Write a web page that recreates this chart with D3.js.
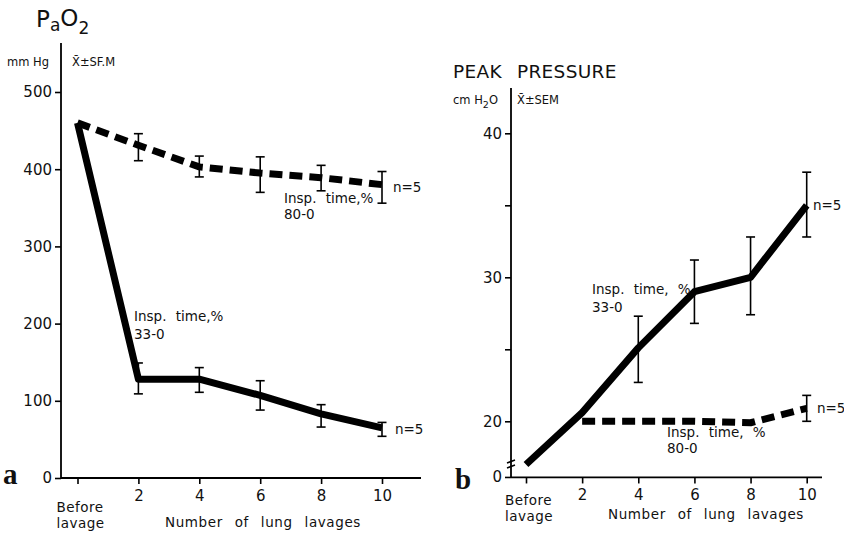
<!DOCTYPE html>
<html><head><meta charset="utf-8">
<script src="https://cdn.jsdelivr.net/npm/d3@7"></script>
<style>
body{margin:0;background:#fff}
svg{display:block}
text{fill:#111}
</style>
</head><body>
<svg id="chart" width="844" height="535" font-family="DejaVu Sans, sans-serif"></svg>
<script>
// Lavage number along the x axis (0 = before lavage)
const lavages = [0, 2, 4, 6, 8, 10];
const lavageTickLabels = ["", "2", "4", "6", "8", "10"];

// Panel a: PaO2 (mm Hg), mean and mean ± SEM
const pao2Ticks = [0, 100, 200, 300, 400, 500];
const pao2Short = [460, 128, 128, 107, 83, 65];          // insp. time 33-0 %
const pao2ShortLo = [null, 109, 111, 88, 66, 54];
const pao2ShortHi = [null, 149, 143, 126, 95, 72];
const pao2Long = [460, 431, 403, 395, 389, 380];         // insp. time 80-0 %
const pao2LongLo = [null, 411, 390, 370, 372, 356];
const pao2LongHi = [null, 446, 417, 416, 405, 397];

// Panel b: peak pressure (cm H2O), mean and mean ± SEM
const peakTicks = [20, 25, 30, 35, 40];
const peakShort = [17.0, 20.6, 25.1, 29.0, 30.0, 35.0];  // insp. time 33-0 %
const peakShortLo = [null, null, 22.7, 26.8, 27.4, 32.8];
const peakShortHi = [null, null, 27.3, 31.2, 32.8, 37.3];
const peakLong = [null, 20.0, 20.0, 20.0, 19.9, 20.9];   // insp. time 80-0 %
const peakLongLo = [null, null, null, null, null, 20.0];
const peakLongHi = [null, null, null, null, null, 21.8];
const peakAxisFloor = 16.1; // value drawn at the broken-axis "0"

const svg = d3.select("#chart");

function rows(xs, ys, lo, hi) {
  return xs.map((x, i) => ({x, y: ys[i], lo: lo[i], hi: hi[i]})).filter(d => d.y != null);
}

function drawSeries(g, x, y, data, dashed) {
  const line = d3.line().x(d => x(d.x)).y(d => y(d.y));
  g.append("path").datum(data)
    .attr("d", line)
    .attr("fill", "none")
    .attr("stroke", "#000")
    .attr("stroke-width", 7)
    .attr("stroke-linejoin", "round")
    .attr("stroke-dasharray", dashed ? "13,7" : null);
  const eb = data.filter(d => d.lo != null);
  const bars = g.selectAll(null).data(eb).enter().append("g").attr("stroke", "#000").attr("stroke-width", 1.6);
  bars.append("line").attr("x1", d => x(d.x)).attr("x2", d => x(d.x)).attr("y1", d => y(d.lo)).attr("y2", d => y(d.hi));
  bars.append("line").attr("x1", d => x(d.x) - 4.5).attr("x2", d => x(d.x) + 4.5).attr("y1", d => y(d.lo)).attr("y2", d => y(d.lo));
  bars.append("line").attr("x1", d => x(d.x) - 4.5).attr("x2", d => x(d.x) + 4.5).attr("y1", d => y(d.hi)).attr("y2", d => y(d.hi));
}

function styleAxis(g, size) {
  g.select(".domain").remove();
  g.selectAll(".tick line").attr("stroke", "#000").attr("stroke-width", 1.6);
  g.selectAll(".tick text").attr("font-family", "DejaVu Sans, sans-serif").attr("font-size", size).attr("fill", "#111");
}

function xLabels(g, x, yBase, numX, beforeDy, numDy) {
  g.append("text").attr("x", x(0) - 21).attr("y", yBase + beforeDy).attr("font-size", 13.5).attr("letter-spacing", 0.5).text("Before");
  g.append("text").attr("x", x(0) - 21).attr("y", yBase + beforeDy + 16).attr("font-size", 13.5).attr("letter-spacing", 0.5).text("lavage");
  g.append("text").attr("x", numX).attr("y", yBase + numDy).attr("font-size", 13.5)
    .attr("letter-spacing", 0.6).attr("word-spacing", 7).text("Number of lung lavages");
}

// ---------- Panel a ----------
const xA = d3.scaleLinear().domain([0, 10]).range([77.5, 382]);
const yA = d3.scaleLinear().domain([0, 500]).range([478, 92]);
const gA = svg.append("g");

gA.append("line").attr("x1", 61).attr("x2", 61).attr("y1", 43).attr("y2", yA(0)).attr("stroke", "#000").attr("stroke-width", 1.8);
gA.append("line").attr("x1", 61).attr("x2", 421).attr("y1", yA(0)).attr("y2", yA(0)).attr("stroke", "#000").attr("stroke-width", 1.8);

gA.append("g").attr("transform", "translate(61,0)")
  .call(d3.axisLeft(yA).tickValues(pao2Ticks).tickSize(6).tickPadding(3))
  .call(g => styleAxis(g, 15));
gA.append("g").attr("transform", `translate(0,${yA(0)})`)
  .call(d3.axisBottom(xA).tickValues(lavages).tickFormat((d, i) => lavageTickLabels[i]).tickSize(6).tickPadding(6))
  .call(g => styleAxis(g, 15));

drawSeries(gA, xA, yA, rows(lavages, pao2Long, pao2LongLo, pao2LongHi), true);
drawSeries(gA, xA, yA, rows(lavages, pao2Short, pao2ShortLo, pao2ShortHi), false);

// title PaO2
const tA = gA.append("text").attr("x", 36).attr("y", 27).attr("font-size", 23);
tA.append("tspan").text("P");
tA.append("tspan").attr("font-size", 17).attr("dy", 4).text("a");
tA.append("tspan").attr("dy", -5).text("O");
tA.append("tspan").attr("font-size", 17).attr("dy", 8).text("2");

gA.append("text").attr("x", 7).attr("y", 66).attr("font-size", 11.5).text("mm Hg");
gA.append("text").attr("x", 72).attr("y", 66).attr("font-size", 11.5).text("X\u0304\u00B1SF.M");

gA.append("text").attr("x", 284).attr("y", 203).attr("font-size", 13.5).attr("word-spacing", 5).text("Insp. time,%");
gA.append("text").attr("x", 284).attr("y", 219).attr("font-size", 13.5).text("80-0");
gA.append("text").attr("x", 393).attr("y", 192).attr("font-size", 13.5).text("n=5");

gA.append("text").attr("x", 134).attr("y", 321).attr("font-size", 13.5).attr("word-spacing", 5).text("Insp. time,%");
gA.append("text").attr("x", 134).attr("y", 339).attr("font-size", 13.5).text("33-0");
gA.append("text").attr("x", 395).attr("y", 434).attr("font-size", 13.5).text("n=5");

xLabels(gA, xA, yA(0), 165, 34, 49);
gA.append("text").attr("x", 3).attr("y", 484).attr("font-family", "Liberation Serif, serif").attr("font-weight", "bold").attr("font-size", 29).text("a");

// ---------- Panel b ----------
const xB = d3.scaleLinear().domain([0, 10]).range([526, 806.7]);
const yB = d3.scaleLinear().domain([20, 40]).range([421.3, 133.3]);
const gB = svg.append("g");
const yFloor = yB(peakAxisFloor);

gB.append("line").attr("x1", 511).attr("x2", 511).attr("y1", 88).attr("y2", yFloor).attr("stroke", "#000").attr("stroke-width", 1.8);
gB.append("line").attr("x1", 511).attr("x2", 822).attr("y1", yFloor).attr("y2", yFloor).attr("stroke", "#000").attr("stroke-width", 1.8);
// axis break marks
[461.5, 466.5].forEach(yy => {
  gB.append("line").attr("x1", 507).attr("x2", 515).attr("y1", yy + 1.5).attr("y2", yy - 1.5).attr("stroke", "#000").attr("stroke-width", 1.6);
});

gB.append("g").attr("transform", "translate(511,0)")
  .call(d3.axisLeft(yB).tickValues(peakTicks).tickFormat(d => d % 10 === 0 ? d : "").tickSize(6).tickPadding(3))
  .call(g => styleAxis(g, 15));
gB.append("line").attr("x1", 505).attr("x2", 511).attr("y1", yFloor).attr("y2", yFloor).attr("stroke", "#000").attr("stroke-width", 1.6);
gB.append("text").attr("x", 502).attr("y", yFloor + 5).attr("text-anchor", "end").attr("font-size", 15).text("0");

gB.append("g").attr("transform", `translate(0,${yFloor})`)
  .call(d3.axisBottom(xB).tickValues(lavages).tickFormat((d, i) => lavageTickLabels[i]).tickSize(6).tickPadding(6))
  .call(g => styleAxis(g, 15));

drawSeries(gB, xB, yB, rows(lavages, peakLong, peakLongLo, peakLongHi), true);
drawSeries(gB, xB, yB, rows(lavages, peakShort, peakShortLo, peakShortHi), false);

gB.append("text").attr("x", 453).attr("y", 78).attr("font-size", 18.5).attr("word-spacing", 9).attr("letter-spacing", 0.3).text("PEAK PRESSURE");
const unitB = gB.append("text").attr("x", 453).attr("y", 104).attr("font-size", 11.5);
unitB.append("tspan").text("cm H");
unitB.append("tspan").attr("font-size", 9.5).attr("dy", 4).text("2");
unitB.append("tspan").attr("dy", -4).text("O");
gB.append("text").attr("x", 517).attr("y", 104).attr("font-size", 11.5).text("X\u0304\u00B1SEM");

gB.append("text").attr("x", 592).attr("y", 294).attr("font-size", 13.5).attr("word-spacing", 5).text("Insp. time, %");
gB.append("text").attr("x", 592).attr("y", 312).attr("font-size", 13.5).text("33-0");
gB.append("text").attr("x", 813).attr("y", 210).attr("font-size", 13.5).text("n=5");

gB.append("text").attr("x", 667).attr("y", 437).attr("font-size", 13.5).attr("word-spacing", 5).text("Insp. time, %");
gB.append("text").attr("x", 667).attr("y", 453).attr("font-size", 13.5).text("80-0");
gB.append("text").attr("x", 817).attr("y", 413).attr("font-size", 13.5).text("n=5");

xLabels(gB, xB, yFloor, 608, 28, 42);
gB.append("text").attr("x", 455).attr("y", 489).attr("font-family", "Liberation Serif, serif").attr("font-weight", "bold").attr("font-size", 29).text("b");
</script>
</body></html>
